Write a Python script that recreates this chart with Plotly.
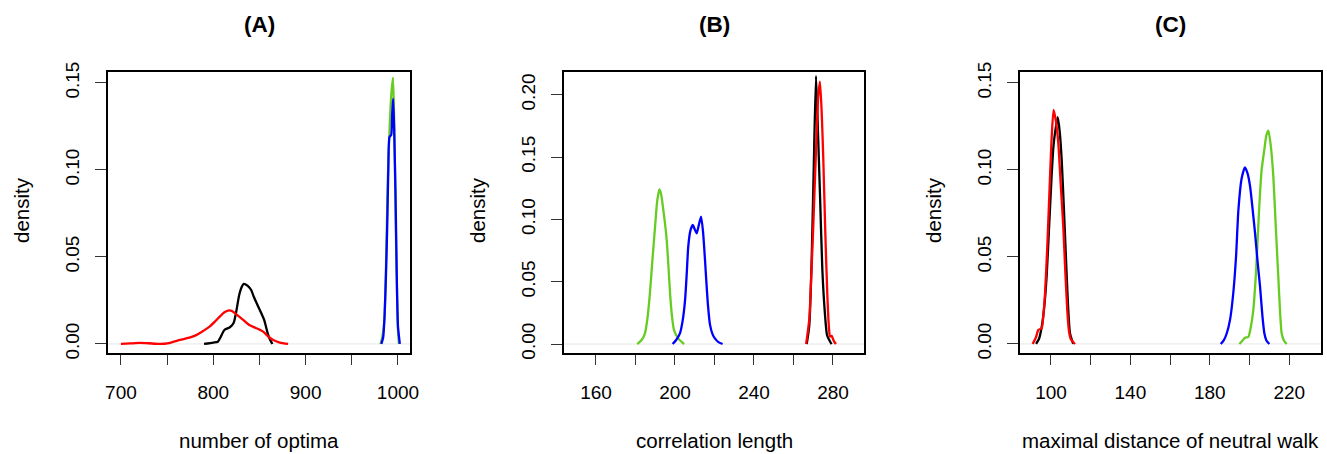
import plotly.graph_objects as go

W, H = 1327, 454

# ---------------- data ----------------
# Panel A: number of optima
a_black_x = [790, 800, 805, 808, 812, 818, 822, 825, 828, 831, 833, 837, 841, 844, 847, 850, 852, 855, 857, 859, 861, 864]
a_black_y = [0, 0.0008, 0.0013, 0.004, 0.008, 0.0096, 0.012, 0.019, 0.028, 0.033, 0.0345, 0.0335, 0.031, 0.027, 0.0234, 0.020, 0.0176, 0.014, 0.010, 0.006, 0.003, 0]
a_red_x = [700, 710, 720, 730, 742, 752, 764, 775, 782, 790, 796, 802, 807, 812, 816, 820, 825, 832, 839, 846, 854, 860, 865, 872, 881]
a_red_y = [0, 0.0003, 0.0006, 0.0004, 0.0, 0.0005, 0.0023, 0.0038, 0.0052, 0.0078, 0.0100, 0.013, 0.0157, 0.0182, 0.0192, 0.019, 0.0170, 0.014, 0.0109, 0.0092, 0.0071, 0.004, 0.0023, 0.0008, 0.0]
a_green_x = [981, 983, 985.4, 987, 989, 991, 993, 994.6, 996, 997.5, 999, 1000, 1001]
a_green_y = [0, 0.004, 0.015, 0.045, 0.095, 0.125, 0.145, 0.153, 0.125, 0.07, 0.029, 0.008, 0]
a_blue_x = [982, 984, 985.4, 987, 988.3, 989.5, 990.8, 992.6, 993.8, 994.8, 996, 997.3, 998.2, 999, 1000, 1002]
a_blue_y = [0, 0.004, 0.0155, 0.04, 0.067, 0.1, 0.119, 0.120, 0.133, 0.141, 0.12, 0.0866, 0.055, 0.0287, 0.01, 0]

# Panel B: correlation length
b_green_x = [180.9, 183, 184.8, 186, 187.3, 188.6, 189.9, 191, 192.1, 193, 194.1, 195, 195.8, 196.7, 197.5, 198.5, 199.5, 201.7, 204.6]
b_green_y = [0, 0.003, 0.0086, 0.02, 0.0407, 0.068, 0.094, 0.115, 0.124, 0.12, 0.1075, 0.096, 0.0835, 0.062, 0.0407, 0.022, 0.0112, 0.0043, 0]
b_blue_x = [198.8, 200.5, 202.5, 203.8, 205.1, 206, 206.7, 207.8, 209, 210, 211, 212, 213.2, 214.2, 215.2, 216.5, 217.7, 219, 220.3, 222, 224.1]
b_blue_y = [0, 0.003, 0.0086, 0.018, 0.0353, 0.058, 0.078, 0.091, 0.0955, 0.092, 0.0889, 0.095, 0.1022, 0.09, 0.0674, 0.035, 0.0158, 0.008, 0.0043, 0.0015, 0]
b_black_x = [266.7, 268, 269.2, 270.3, 271.4, 272.4, 273.4, 274.6, 275.9, 277, 278.5, 279.3]
b_black_y = [0, 0.015, 0.0674, 0.145, 0.2151, 0.17, 0.121, 0.06, 0.0246, 0.007, 0.002, 0]
b_red_x = [266.4, 268, 269, 270, 271.5, 272.5, 273.4, 274.3, 275.1, 276.1, 277.1, 278, 278.5, 279.3, 280, 280.6, 281.5]
b_red_y = [0, 0.02, 0.055, 0.094, 0.16, 0.198, 0.2105, 0.185, 0.1477, 0.09, 0.0407, 0.012, 0.006, 0.0065, 0.004, 0.002, 0]

# Panel C: maximal distance of neutral walk
c_black_x = [92.5, 94, 95.3, 96.5, 97.8, 99, 100.3, 101.2, 102, 103.4, 104.4, 105.4, 106.5, 107.6, 108.6, 109.6, 111.2]
c_black_y = [0, 0.003, 0.0096, 0.02, 0.0387, 0.066, 0.096, 0.113, 0.121, 0.1303, 0.122, 0.1057, 0.078, 0.048, 0.022, 0.006, 0]
c_red_x = [90.8, 92.5, 93.6, 95.3, 96.2, 97, 98.1, 99.2, 100.2, 101.3, 102.5, 103.7, 105, 106.2, 107.2, 108.2, 109, 109.9, 112.1]
c_red_y = [0, 0.004, 0.008, 0.009, 0.017, 0.029, 0.055, 0.0866, 0.115, 0.1345, 0.128, 0.1153, 0.09, 0.0674, 0.042, 0.0195, 0.008, 0.003, 0]
c_blue_x = [185.5, 187, 188.5, 190.2, 191.8, 193.2, 194.4, 196, 197.7, 199, 200.3, 201.5, 202.8, 204, 205.3, 206.5, 207.5, 208.5, 210]
c_blue_y = [0, 0.002, 0.006, 0.014, 0.029, 0.05, 0.077, 0.095, 0.1015, 0.098, 0.0904, 0.078, 0.0636, 0.048, 0.033, 0.016, 0.006, 0.002, 0]
c_green_x = [194.9, 196.5, 197.7, 199.4, 200.7, 201.9, 203.2, 204.4, 205.2, 206.1, 207.5, 208.5, 209.5, 210.7, 212, 213.2, 214.5, 215.4, 216.2, 217.3, 218.7]
c_green_y = [0, 0.002, 0.0036, 0.004, 0.01, 0.0195, 0.04, 0.0674, 0.085, 0.1, 0.112, 0.12, 0.1226, 0.114, 0.096, 0.068, 0.0385, 0.018, 0.006, 0.002, 0]

# axes ticks / labels
a_xticks = [700, 750, 800, 850, 900, 950, 1000]
a_xlabels = ["700", "", "800", "", "900", "", "1000"]
b_xticks = [160, 180, 200, 220, 240, 260, 280]
b_xlabels = ["160", "", "200", "", "240", "", "280"]
c_xticks = [100, 120, 140, 160, 180, 200, 220]
c_xlabels = ["100", "", "140", "", "180", "", "220"]
ac_yticks = [0, 0.05, 0.10, 0.15]
ac_ylabels = ["0.00", "0.05", "0.10", "0.15"]
b_yticks = [0, 0.05, 0.10, 0.15, 0.20]
b_ylabels = ["0.00", "0.05", "0.10", "0.15", "0.20"]

titles = ["(A)", "(B)", "(C)"]
xtitles = ["number of optima", "correlation length", "maximal distance of neutral walk"]
ytitle = "density"

# ---------------- styling ----------------
BLACK, RED, GREEN, BLUE = "#000000", "#FF0000", "#66CC22", "#0000FF"
FONT = "Liberation Sans, Arial, Helvetica, sans-serif"
LW = 2.3

fig = go.Figure()

def add(x, y, color, ax):
    fig.add_trace(go.Scatter(x=x, y=y, mode="lines", xaxis="x" + ax, yaxis="y" + ax,
                             line=dict(color=color, width=LW, shape="spline", smoothing=0.6),
                             showlegend=False, hoverinfo="skip"))

# panel A
add(a_black_x, a_black_y, BLACK, "")
add(a_red_x, a_red_y, RED, "")
add(a_green_x, a_green_y, GREEN, "")
add(a_blue_x, a_blue_y, BLUE, "")
# panel B
add(b_black_x, b_black_y, BLACK, "2")
add(b_red_x, b_red_y, RED, "2")
add(b_green_x, b_green_y, GREEN, "2")
add(b_blue_x, b_blue_y, BLUE, "2")
# panel C
add(c_black_x, c_black_y, BLACK, "3")
add(c_red_x, c_red_y, RED, "3")
add(c_green_x, c_green_y, GREEN, "3")
add(c_blue_x, c_blue_y, BLUE, "3")

# pixel boxes of the three plot regions (left, right)
boxes = [(108, 410), (564, 864), (1020, 1321)]
top_px, bot_px = 72, 353
ydom = [(H - bot_px) / H, (H - top_px) / H]

xranges = [[686, 1013], [143.8, 295.7], [84.4, 236.0]]
yranges = [[-0.0052, 0.1563], [-0.0072, 0.2183], [-0.0052, 0.1563]]
xticks = [(a_xticks, a_xlabels), (b_xticks, b_xlabels), (c_xticks, c_xlabels)]
yticks = [(ac_yticks, ac_ylabels), (b_yticks, b_ylabels), (ac_yticks, ac_ylabels)]

tickfont = dict(family=FONT, size=19, color="#000000")
layout = dict(width=W, height=H, margin=dict(l=0, r=0, t=0, b=0, autoexpand=False),
              plot_bgcolor="white", paper_bgcolor="white", showlegend=False)

annotations = []
shapes = []
for i in range(3):
    sfx = "" if i == 0 else str(i + 1)
    l, r = boxes[i]
    xa = dict(domain=[l / W, r / W], range=xranges[i], anchor="y" + sfx,
              showgrid=False, zeroline=False, showline=True, mirror=True,
              linecolor="black", linewidth=1.6, ticks="outside", ticklen=10,
              tickwidth=1.2, tickcolor="#333333",
              tickvals=xticks[i][0], ticktext=xticks[i][1], tickfont=tickfont,
              ticklabelstandoff=11, fixedrange=True)
    ya = dict(domain=ydom, range=yranges[i], anchor="x" + sfx,
              showgrid=False, zeroline=False, showline=True, mirror=True,
              linecolor="black", linewidth=1.6, ticks="outside", ticklen=11,
              tickwidth=1.2, tickcolor="#333333",
              tickvals=yticks[i][0], ticktext=yticks[i][1], tickfont=tickfont,
              tickangle=-90, ticklabelstandoff=9, fixedrange=True)
    layout["xaxis" + sfx] = xa
    layout["yaxis" + sfx] = ya

    cx = (l + r) / 2
    annotations.append(dict(text="<b>" + titles[i] + "</b>", x=cx / W, y=(H - 25) / H,
                            xref="paper", yref="paper", showarrow=False,
                            xanchor="center", yanchor="middle",
                            font=dict(family=FONT, size=22.5, color="black")))
    annotations.append(dict(text=xtitles[i], x=cx / W, y=(H - 440) / H,
                            xref="paper", yref="paper", showarrow=False,
                            xanchor="center", yanchor="middle",
                            font=dict(family=FONT, size=20.5, color="black")))
    annotations.append(dict(text=ytitle, x=(l - 87) / W, y=(H - 210) / H,
                            xref="paper", yref="paper", showarrow=False, textangle=-90,
                            xanchor="center", yanchor="middle",
                            font=dict(family=FONT, size=20.5, color="black")))
    shapes.append(dict(type="line", xref="x" + sfx + " domain", yref="y" + sfx,
                       x0=0, x1=1, y0=0, y1=0, layer="below",
                       line=dict(color="#E6E6E6", width=1)))

layout["annotations"] = annotations
layout["shapes"] = shapes
fig.update_layout(**layout)
fig.write_html("out.html", config={"displayModeBar": False},
               post_script="document.body.style.margin='0';document.body.style.overflow='hidden';")
